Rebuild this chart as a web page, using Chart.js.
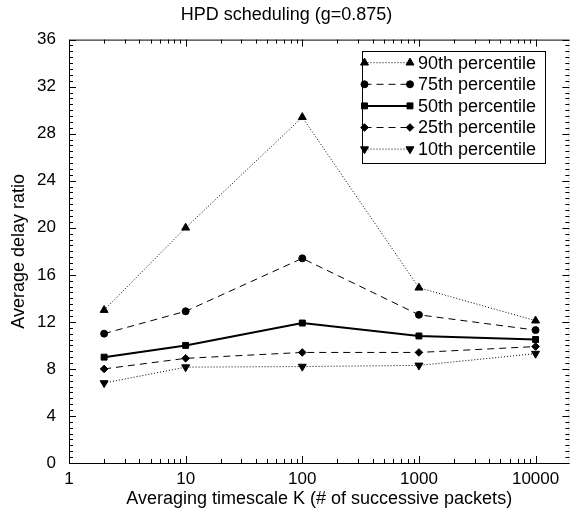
<!DOCTYPE html>
<html>
<head>
<meta charset="utf-8">
<script src="https://cdn.jsdelivr.net/npm/chart.js@4.4.1/dist/chart.umd.min.js"></script>
<style>
  html, body { margin: 0; padding: 0; background: #fff; }
  #wrap { width: 575px; height: 514px; }
</style>
</head>
<body>
<div id="wrap"><canvas id="delayChart"></canvas></div>
<script>
// K values (x) and percentile curves
var kValues = [2, 10, 100, 1000, 10000];
var p90 = [13.0, 20.0, 29.4, 14.9, 12.1];
var p75 = [11.0, 12.9, 17.4, 12.6, 11.3];
var p50 = [9.0, 10.0, 11.9, 10.8, 10.5];
var p25 = [8.0, 8.9, 9.4, 9.4, 9.9];
var p10 = [6.8, 8.15, 8.2, 8.3, 9.3];
var seriesLabels = ['90th percentile', '75th percentile', '50th percentile', '25th percentile', '10th percentile'];
var xTickValues = [1, 10, 100, 1000, 10000];

Chart.defaults.font.family = '"Liberation Sans", Arial, Helvetica, sans-serif';
Chart.defaults.color = '#000';

function pts(ys) {
    return kValues.map(function (k, i) { return { x: k, y: ys[i] }; });
}

function makeSet(label, ys, style, radius, rot, dash, width) {
    return {
        label: label,
        data: pts(ys),
        borderColor: '#000',
        backgroundColor: '#000',
        borderWidth: width,
        borderDash: dash,
        pointStyle: style,
        pointRotation: rot,
        pointRadius: radius,
        pointBorderWidth: 1,
        pointBackgroundColor: '#000',
        pointBorderColor: '#000',
        tension: 0,
        fill: false
    };
}

// frame, inward ticks (all four sides) and the boxed legend
var framePlugin = {
    id: 'frame',
    afterDatasetsDraw: function (chart) {
        var ctx = chart.ctx;
        var a = chart.chartArea;
        var xs = chart.scales.x, ys = chart.scales.y;
        ctx.save();
        ctx.strokeStyle = '#000';
        ctx.lineWidth = 1;
        ctx.setLineDash([]);

        ctx.beginPath();
        ctx.moveTo(a.right, a.top + 0.5);
        ctx.lineTo(a.left + 0.5, a.top + 0.5);
        ctx.lineTo(a.left + 0.5, a.bottom + 0.5);
        ctx.lineTo(a.right, a.bottom + 0.5);
        ctx.stroke();

        // right edge is faint in the reference
        ctx.strokeStyle = '#999';
        ctx.setLineDash([1, 2]);
        ctx.beginPath();
        ctx.moveTo(a.right - 0.5, a.top);
        ctx.lineTo(a.right - 0.5, a.bottom);
        ctx.stroke();
        ctx.setLineDash([]);
        ctx.strokeStyle = '#000';

        // x ticks (log)
        ctx.beginPath();
        for (var d = 1; d <= xs.max; d *= 10) {
            for (var m = 1; m <= 9; m++) {
                var v = d * m;
                if (v > xs.max) break;
                var px = Math.round(xs.getPixelForValue(v)) + 0.5;
                var len = m === 1 ? 7 : 4;
                ctx.moveTo(px, a.bottom);
                ctx.lineTo(px, a.bottom - len);
                ctx.moveTo(px, a.top);
                ctx.lineTo(px, a.top + len);
            }
        }
        // y ticks
        for (var t = 0; t <= 36.001; t += 0.5) {
            var py = Math.round(ys.getPixelForValue(t)) + 0.5;
            var ln = (t % 4 === 0) ? 7 : 4;
            ctx.moveTo(a.left, py);
            ctx.lineTo(a.left + ln, py);
            ctx.moveTo(a.right, py);
            ctx.lineTo(a.right - ln, py);
        }
        ctx.stroke();

        // legend box
        var bx = 362, by = 51, bw = 183, bh = 112;
        ctx.strokeRect(bx + 0.5, by + 0.5, bw, bh);
        ctx.font = '18px "Liberation Sans", Arial, sans-serif';
        ctx.textBaseline = 'middle';
        ctx.textAlign = 'left';
        ctx.fillStyle = '#000';
        chart.data.datasets.forEach(function (ds, i) {
            var cy = 62.7 + 21.6 * i;
            var x1 = 364.5, x2 = 410;
            ctx.save();
            ctx.lineWidth = ds.borderWidth;
            ctx.setLineDash(ds.borderDash || []);
            ctx.beginPath();
            ctx.moveTo(x1, cy);
            ctx.lineTo(x2, cy);
            ctx.stroke();
            ctx.restore();
            var opts = { pointStyle: ds.pointStyle, rotation: ds.pointRotation, radius: ds.pointRadius, borderWidth: 1 };
            ctx.save();
            ctx.setLineDash([]);
            ctx.lineWidth = 1;
            Chart.helpers.drawPoint(ctx, opts, x1, cy);
            Chart.helpers.drawPoint(ctx, opts, x2, cy);
            ctx.restore();
            ctx.fillText(ds.label, 418, cy + 1);
        });
        ctx.restore();
    }
};

var ctx = document.getElementById('delayChart').getContext('2d');
var delayChart = new Chart(ctx, {
    type: 'line',
    data: {
        datasets: [
            makeSet(seriesLabels[0], p90, 'triangle', 4.6, 0, [1, 2], 1),
            makeSet(seriesLabels[1], p75, 'circle', 3.5, 0, [7, 5], 1),
            makeSet(seriesLabels[2], p50, 'rect', 4.2, 0, [], 2),
            makeSet(seriesLabels[3], p25, 'rectRot', 3.8, 0, [7, 5], 1),
            makeSet(seriesLabels[4], p10, 'triangle', 4.6, 180, [1, 2], 1)
        ]
    },
    options: {
        responsive: true,
        maintainAspectRatio: false,
        animation: false,
        layout: { padding: { left: 0, right: 2, top: 0, bottom: 0 } },
        plugins: {
            legend: { display: false },
            tooltip: { enabled: false },
            title: {
                display: true,
                text: 'HPD scheduling (g=0.875)',
                color: '#000',
                font: { size: 18, weight: 'normal' },
                padding: { top: 4, bottom: 14 }
            }
        },
        scales: {
            x: {
                type: 'logarithmic',
                min: 1,
                max: 19500,
                afterBuildTicks: function (scale) {
                    scale.ticks = xTickValues.map(function (v) { return { value: v }; });
                },
                afterFit: function (scale) { scale.height = 51; },
                grid: { display: false, drawTicks: false },
                border: { display: false },
                ticks: {
                    autoSkip: false,
                    maxRotation: 0,
                    padding: 6,
                    font: { size: 17 },
                    color: '#000',
                    callback: function (v) { return String(v); }
                },
                title: {
                    display: true,
                    text: 'Averaging timescale K (# of successive packets)',
                    color: '#000',
                    font: { size: 18 },
                    padding: { top: 0, bottom: 4 }
                }
            },
            y: {
                min: 0,
                max: 36,
                afterFit: function (scale) { scale.width = 69; },
                grid: { display: false, drawTicks: false },
                border: { display: false },
                ticks: {
                    stepSize: 4,
                    padding: 13,
                    font: { size: 17 },
                    color: '#000'
                },
                title: {
                    display: true,
                    text: 'Average delay ratio',
                    color: '#000',
                    font: { size: 18 },
                    padding: { top: 8, bottom: 0 }
                }
            }
        }
    },
    plugins: [framePlugin]
});
</script>
</body>
</html>
